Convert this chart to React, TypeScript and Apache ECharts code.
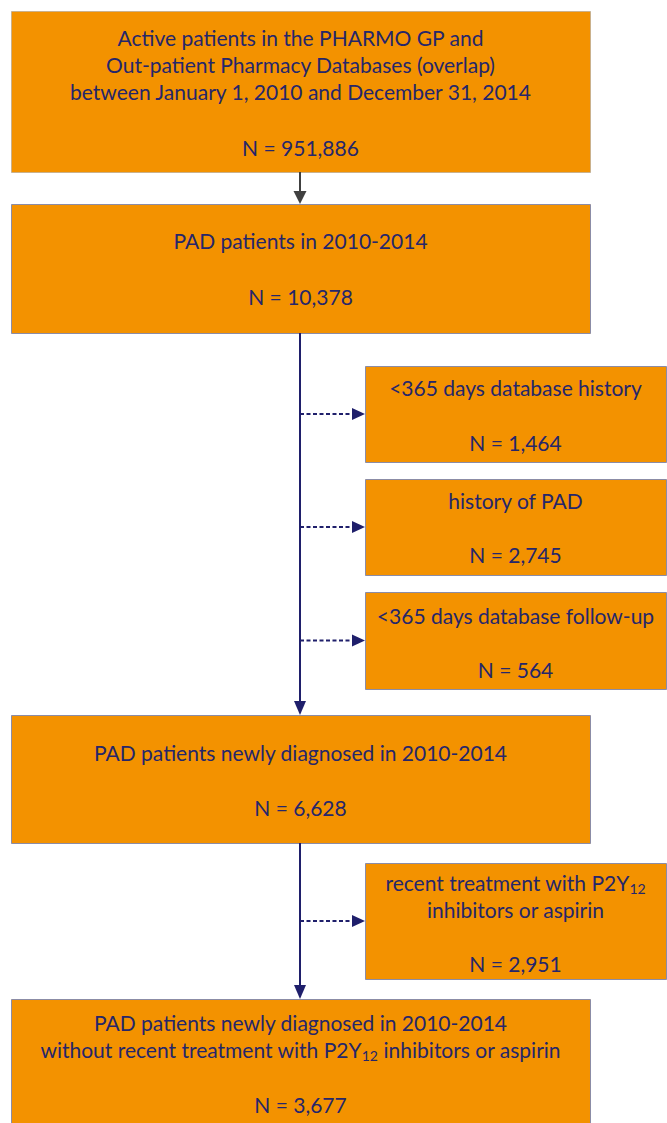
import React, { useEffect, useRef } from "react";
import * as echarts from "echarts";

// ---- data ----
const mainTitles: string[][] = [
  [
    "Active patients in the PHARMO GP and",
    "Out-patient Pharmacy Databases (overlap)",
    "between January 1, 2010 and December 31, 2014",
  ],
  ["PAD patients in 2010-2014"],
  ["PAD patients newly diagnosed in 2010-2014"],
  [
    "PAD patients newly diagnosed in 2010-2014",
    "without recent treatment with P2Y{sub|12} inhibitors or aspirin",
  ],
];
const mainCounts: string[] = ["951,886", "10,378", "6,628", "3,677"];

const exclusionTitles: string[][] = [
  ["<365 days database history"],
  ["history of PAD"],
  ["<365 days database follow-up"],
  ["recent treatment with P2Y{sub|12}", "inhibitors or aspirin"],
];
const exclusionCounts: string[] = ["1,464", "2,745", "564", "2,951"];

// ---- layout ----
const MAIN_X = 11;
const MAIN_W = 579;
const mainBoxY = [11, 204, 715, 999];
const mainBoxH = [161, 129, 128, 140];
const mainTitleY = [37, 240, 752, 1022];
const mainCountY = [147, 296, 807, 1104];

const SIDE_X = 365;
const SIDE_W = 301;
const sideBoxY = [366, 479, 592, 863];
const sideBoxH = [96, 96, 97, 116];
const sideTitleY = [387, 500, 615, 882];
const sideCountY = [442, 554, 669, 963];

const AXIS_X = 300;
const LINE_H = 27;
const FONT_SIZE = 21;
const FONT = "Lato, 'Open Sans', sans-serif";
const TEXT_COLOR = "#25266b";
const FILL = "#f39200";
const BORDER = "#8b8ca6";
const NAVY = "#1f1f6b";
const GRAY = "#404040";

function textEl(cx: number, firstCenter: number, text: string) {
  return {
    type: "text",
    x: cx,
    y: firstCenter - LINE_H / 2,
    silent: true,
    style: {
      text,
      fill: TEXT_COLOR,
      fontFamily: FONT,
      fontSize: FONT_SIZE,
      lineHeight: LINE_H,
      align: "center",
      verticalAlign: "top",
      rich: {
        sub: {
          fontFamily: FONT,
          fontSize: 14,
          lineHeight: 18,
          fill: TEXT_COLOR,
          verticalAlign: "bottom",
        },
      },
    },
  };
}

function arrowHead(x: number, y: number, dir: "down" | "right", color: string, w = 12, l = 13) {
  const pts =
    dir === "down"
      ? [
          [x - w / 2, y - l],
          [x + w / 2, y - l],
          [x, y],
        ]
      : [
          [x - l, y - w / 2],
          [x - l, y + w / 2],
          [x, y],
        ];
  return { type: "polygon", silent: true, shape: { points: pts }, style: { fill: color } };
}

function buildGraphics() {
  const els: any[] = [];
  // main boxes
  mainTitles.forEach((lines, i) => {
    els.push({
      type: "rect",
      silent: true,
      shape: { x: MAIN_X + 0.5, y: mainBoxY[i] + 0.5, width: MAIN_W, height: mainBoxH[i] },
      style: {
        fill: FILL,
        stroke: i === 0 ? "#9a9a9a" : BORDER,
        lineWidth: 1,
        lineDash: i === 0 ? [1, 1] : null,
      },
    });
    const cx = MAIN_X + MAIN_W / 2;
    els.push(textEl(cx, mainTitleY[i], lines.join("\n")));
    els.push(textEl(cx, mainCountY[i], "N = " + mainCounts[i]));
  });
  // side boxes
  exclusionTitles.forEach((lines, i) => {
    els.push({
      type: "rect",
      silent: true,
      shape: { x: SIDE_X + 0.5, y: sideBoxY[i] + 0.5, width: SIDE_W, height: sideBoxH[i] },
      style: { fill: FILL, stroke: BORDER, lineWidth: 1 },
    });
    const cx = SIDE_X + SIDE_W / 2;
    els.push(textEl(cx, sideTitleY[i], lines.join("\n")));
    els.push(textEl(cx, sideCountY[i], "N = " + exclusionCounts[i]));
    // dashed arrows
    const ay = sideBoxY[i] + sideBoxH[i] / 2;
    els.push({
      type: "line",
      silent: true,
      shape: { x1: AXIS_X, y1: ay, x2: SIDE_X - 12, y2: ay },
      style: { stroke: NAVY, lineWidth: 2, lineDash: [4, 2.5] },
    });
    els.push(arrowHead(SIDE_X, ay, "right", NAVY, 12, 13));
  });
  // gray arrow box1 -> box2
  els.push({
    type: "line",
    silent: true,
    shape: { x1: AXIS_X, y1: mainBoxY[0] + mainBoxH[0], x2: AXIS_X, y2: mainBoxY[1] - 10 },
    style: { stroke: GRAY, lineWidth: 2 },
  });
  els.push(arrowHead(AXIS_X, mainBoxY[1], "down", GRAY, 13, 13));
  // navy arrows box2 -> box3, box3 -> box4
  [
    [1, 2],
    [2, 3],
  ].forEach(([a, b]) => {
    els.push({
      type: "line",
      silent: true,
      shape: { x1: AXIS_X, y1: mainBoxY[a] + mainBoxH[a], x2: AXIS_X, y2: mainBoxY[b] - 10 },
      style: { stroke: NAVY, lineWidth: 2 },
    });
    els.push(arrowHead(AXIS_X, mainBoxY[b], "down", NAVY, 12, 14));
  });
  return els;
}

export default function App() {
  const ref = useRef<HTMLDivElement>(null);
  useEffect(() => {
    if (!ref.current) return;
    const chart = echarts.init(ref.current, undefined, { renderer: "svg" });
    chart.setOption({
      animation: false,
      backgroundColor: "#ffffff",
      graphic: { elements: buildGraphics() },
    });
    return () => chart.dispose();
  }, []);
  return (
    <div
      ref={ref}
      style={{ position: "fixed", left: 0, top: 0, width: 667, height: 1123, background: "#fff" }}
    />
  );
}
